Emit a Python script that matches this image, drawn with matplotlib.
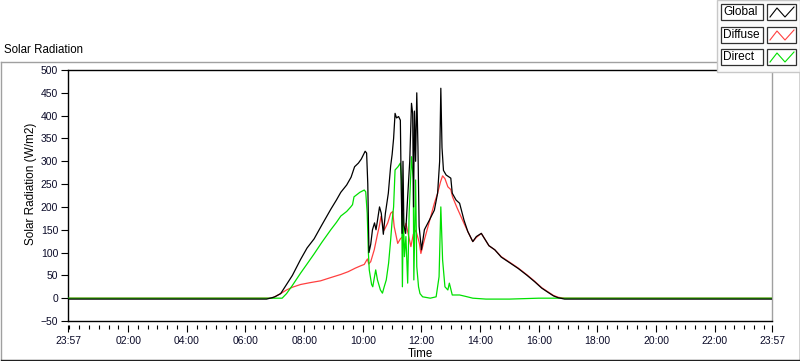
import matplotlib
matplotlib.use("Agg")
import matplotlib.pyplot as plt
from matplotlib.lines import Line2D
from matplotlib.patches import Rectangle

plt.rcParams["font.family"] = ["Liberation Sans", "DejaVu Sans"]

# ── data (hours since midnight, W/m2) ─────────────────────────────────────────
global_t = [-0.05, 6.72, 6.9, 7.0, 7.2, 7.35, 7.6, 7.88, 8.1, 8.34, 8.6, 8.91,
            9.1, 9.25, 9.45, 9.6, 9.72, 9.85, 9.95, 10.08, 10.13, 10.17, 10.21,
            10.27, 10.33, 10.4, 10.45, 10.5, 10.57, 10.63, 10.7, 10.77, 10.87,
            10.95, 11.0, 11.05, 11.1, 11.15, 11.22, 11.28, 11.31, 11.34, 11.37,
            11.4, 11.46, 11.53, 11.6, 11.66, 11.7, 11.73, 11.76, 11.8, 11.84,
            11.88, 11.92, 12.0, 12.1, 12.27, 12.44, 12.55, 12.62, 12.66, 12.7,
            12.75, 12.84, 13.0, 13.05, 13.18, 13.3, 13.45, 13.58, 13.75, 13.87,
            14.04, 14.3, 14.5, 14.72, 15.0, 15.3, 15.6, 15.86, 16.1, 16.31,
            16.5, 16.66, 16.88, 23.95]
global_v = [-2, -2, 1, 3, 10, 25, 50, 85, 110, 130, 160, 195,
            215, 232, 248, 265, 288, 296, 305, 322, 318, 250, 100,
            118, 150, 165, 150, 170, 200, 186, 140, 186, 230,
            290, 315, 350, 405, 395, 398, 390, 240, 142, 300,
            160, 142, 222, 300, 427, 405, 200, 410, 300, 450,
            332, 157, 106, 150, 171, 193, 230, 300, 460, 330,
            280, 270, 263, 230, 215, 208, 171, 146, 124, 135,
            142, 115, 106, 90, 78, 65, 50, 36, 22, 13,
            5, 1, -2, -2]

diffuse_t = [-0.05, 6.9, 7.0, 7.25, 7.4, 7.6, 7.88, 8.2, 8.56, 8.9, 9.25, 9.5,
             9.75, 9.93, 10.05, 10.12, 10.16, 10.2, 10.27, 10.39, 10.5, 10.56,
             10.62, 10.73, 10.85, 10.95, 11.02, 11.07, 11.19, 11.28, 11.36,
             11.47, 11.55, 11.64, 11.72, 11.81, 11.93, 11.98, 12.1, 12.27,
             12.44, 12.55, 12.65, 12.72, 12.8, 12.9, 13.0, 13.06, 13.2, 13.45,
             13.58, 13.75, 13.87, 14.04, 14.3, 14.5, 14.72, 15.0, 15.3, 15.6,
             15.86, 16.1, 16.31, 16.5, 16.66, 16.88, 23.95]
diffuse_v = [0, 0, 3, 12, 18, 24, 30, 34, 38, 45, 52, 58,
             66, 71, 74, 82, 86, 75, 80, 106, 140, 157,
             179, 149, 165, 186, 190, 157, 120, 130, 135,
             164, 140, 113, 140, 149, 120, 98, 128, 168,
             208, 230, 255, 268, 262, 244, 238, 222, 200, 164,
             146, 124, 133, 142, 115, 106, 91, 79, 66, 51,
             37, 23, 14, 6, 2, 0, 0]

direct_t = [-0.05, 7.25, 7.4, 7.6, 7.88, 8.1, 8.34, 8.6, 8.91, 9.1, 9.25, 9.45,
            9.59, 9.65, 9.7, 9.9, 10.05, 10.1, 10.15, 10.19, 10.22, 10.3,
            10.34, 10.38, 10.44, 10.5, 10.6, 10.67, 10.73, 10.8, 10.88, 10.95,
            11.0, 11.05, 11.1, 11.2, 11.28, 11.32, 11.35, 11.38, 11.42, 11.47,
            11.53, 11.58, 11.66, 11.72, 11.74, 11.8, 11.84, 11.9, 11.95, 12.04,
            12.3, 12.5, 12.6, 12.66, 12.72, 12.8, 12.9, 12.95, 13.05, 13.3,
            13.5, 13.75, 14.2, 15.0, 15.5, 16.0, 16.5, 16.8, 23.95]
direct_v = [0, 0, 10, 28, 55, 75, 97, 122, 150, 166, 180, 190,
            200, 205, 222, 232, 237, 233, 186, 100, 62, 30,
            25, 40, 62, 40, 18, 11, 25, 40, 77, 128,
            170, 200, 281, 288, 296, 259, 25, 186, 91, 135,
            33, 186, 310, 259, 40, 259, 69, 25, 10, 3,
            0, 3, 47, 200, 84, 25, 18, 33, 7, 7,
            4, 0, -2, -2, -1, 0, 0, 0, 0]

tick_hours = [-0.05, 2, 4, 6, 8, 10, 12, 14, 16, 18, 20, 22, 23.95]
tick_labels = ["23:57", "02:00", "04:00", "06:00", "08:00", "10:00", "12:00",
               "14:00", "16:00", "18:00", "20:00", "22:00", "23:57"]
series_names = ["Global", "Diffuse", "Direct"]
series_colors = ["#000000", "#FF4040", "#00E000"]

# ── figure ───────────────────────────────────────────────────────────────────
W, H = 800, 361
fig = plt.figure(figsize=(W / 100, H / 100), dpi=100)


def fx(x):
    return x / W


def fy(y):
    return 1 - y / H


ax = fig.add_axes([fx(68), fy(321), fx(772) - fx(68), fy(70) - fy(321)])

ax.plot(diffuse_t, diffuse_v, color=series_colors[1], lw=0.9, zorder=2)
ax.plot(direct_t, direct_v, color=series_colors[2], lw=0.9, zorder=3)
ax.plot(global_t, global_v, color=series_colors[0], lw=0.9, zorder=4)

ax.set_xlim(-0.05, 23.95)
ax.set_ylim(-50, 500)
ax.set_yticks(range(-50, 501, 50))
ax.set_xticks(tick_hours)
ax.set_xticklabels(tick_labels)
ax.set_xticks([i / 3 for i in range(0, 72)], minor=True)

lab_col = "#0a0a28"
ax.tick_params(axis="y", length=5, width=0.8, pad=2, labelsize=7.5, labelcolor=lab_col)
ax.tick_params(axis="x", which="major", length=5, width=0.8, pad=2.5,
               labelsize=7.5, labelcolor=lab_col)
ax.tick_params(axis="x", which="minor", length=3, width=0.8)

for s in ("left", "top"):
    ax.spines[s].set_color("black")
    ax.spines[s].set_linewidth(1.0)
ax.spines["right"].set_color("#A0A0A0")
ax.spines["right"].set_linewidth(1.0)
# ticks sit a few pixels below the plot frame, as in the original
ax.spines["bottom"].set_position(("outward", 3))
ax.spines["bottom"].set_visible(False)
ax.plot([0, 1], [0, 0], transform=ax.transAxes, color="black", lw=1.0,
        clip_on=False, zorder=5)

# ── outer panel frame and texts ──────────────────────────────────────────────
fig.add_artist(Line2D([fx(0.5), fx(0.5)], [fy(62), fy(359)], color="#A0A0A0", lw=1))
fig.add_artist(Line2D([fx(0.5), fx(717)], [fy(62), fy(62)], color="#A0A0A0", lw=1))
fig.add_artist(Line2D([fx(0.5), fx(799.5)], [fy(359.5), fy(359.5)], color="#202020", lw=1))
fig.add_artist(Line2D([fx(799.5), fx(799.5)], [fy(72), fy(359.5)], color="#202020", lw=1))

fig.text(fx(4), fy(50), "Solar Radiation", fontsize=8.3, va="center", ha="left",
         color="black")
fig.text(fx(31), fy(184), "Solar Radiation (W/m2)", fontsize=8.5, rotation=90,
         va="center", ha="center", color="black")
fig.text(fx(420), fy(354), "Time", fontsize=8.3, va="center", ha="center",
         color="black")

# ── legend panel ─────────────────────────────────────────────────────────────
fig.add_artist(Rectangle((fx(717), fy(72)), fx(800) - fx(717), fy(0) - fy(72),
                         transform=fig.transFigure, facecolor="#FAFAFA",
                         edgecolor="#C8C8C8", lw=1, zorder=10))
row_top = [4, 27, 49]
for name, col, yt in zip(series_names, series_colors, row_top):
    yb = yt + 16
    fig.add_artist(Rectangle((fx(721), fy(yb)), fx(763) - fx(721), fy(yt) - fy(yb),
                             transform=fig.transFigure, facecolor="white",
                             edgecolor="#303030", lw=0.9, zorder=11))
    fig.add_artist(Rectangle((fx(767), fy(yb)), fx(796) - fx(767), fy(yt) - fy(yb),
                             transform=fig.transFigure, facecolor="white",
                             edgecolor="#303030", lw=0.9, zorder=11))
    fig.text(fx(723), fy(yt + 8), name, fontsize=8.6, va="center", ha="left",
             color="black", zorder=12)
    zx = [770, 777, 785, 794]
    zy = [yb - 3, yt + 4, yb - 3, yt + 3]
    fig.add_artist(Line2D([fx(v) for v in zx], [fy(v) for v in zy], color=col,
                          lw=0.8, zorder=12))

fig.savefig("out.png", dpi=100)
